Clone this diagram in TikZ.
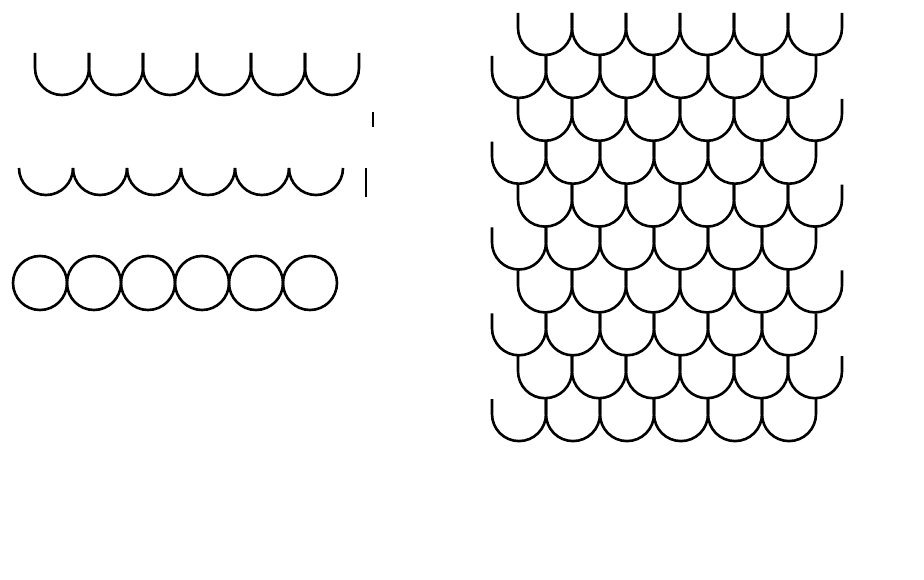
\documentclass[tikz,border=0pt]{standalone}
\definecolor{scaleLine}{HTML}{000000}

\begin{document}
\begin{tikzpicture}[
  x=1pt, y=1pt,
  scaleline/.style={line width=2.6pt, draw=scaleLine},
  tick/.style={line width=2.6pt, draw=scaleLine}
]
\useasboundingbox (0,0) rectangle (924,-580);

%  Single row of scales
\foreach \i in {0,...,5}
  \draw[scaleline] (35+54*\i,-53) -- ++(0,-15)
    arc[start angle=180, end angle=360, radius=27pt] -- ++(0,15);

%  Bare arcs
\foreach \i in {0,...,5}
  \draw[scaleline] (19+54*\i,-168) arc[start angle=180, end angle=360, radius=27pt];
\coordinate (tickA) at (373,-112);
\coordinate (tickB) at (366,-168);
\draw[tick] (tickA) -- ++(0,-15);
\draw[tick] (tickB) -- ++(0,-29);

%  Circles
\foreach \i in {0,...,5}
  \draw[scaleline] (40+54*\i,-283) circle[radius=27pt];

%  Tiled scales
\foreach \r [evaluate=\r as \xs using {518-26*mod(\r,2)},
             evaluate=\r as \ys using {-13-42.9*\r}] in {0,...,9}
  \foreach \i in {0,...,5}
    \draw[scaleline] (\xs+54*\i,\ys) -- ++(0,-15)
      arc[start angle=180, end angle=360, radius=27pt] -- ++(0,15);

\end{tikzpicture}
\end{document}
